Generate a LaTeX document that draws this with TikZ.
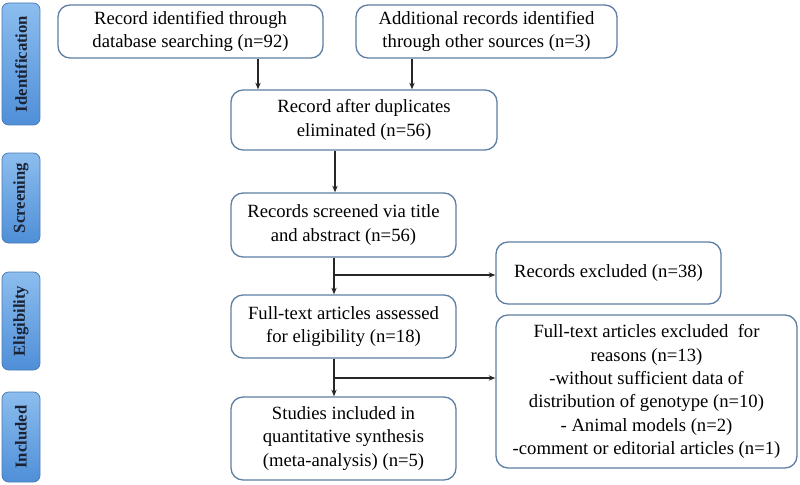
\documentclass[tikz,border=0pt]{standalone}
\usepackage{fontspec}
\setmainfont{Liberation Serif}
\usetikzlibrary{arrows.meta}
\definecolor{boxline}{HTML}{5E7FA3}
\definecolor{sideA}{HTML}{8CBDEE}
\definecolor{sideB}{HTML}{4F8FD8}
\definecolor{sideline}{HTML}{4A7BB5}
\definecolor{sidetext}{HTML}{1A2233}
\tikzset{
  box/.style={draw=boxline, line width=1pt, rounded corners=9pt, fill=white,
    align=center, inner sep=2pt, font=\fontsize{14}{17.5}\selectfont},
  side/.style={draw=sideline, line width=0.6pt, rounded corners=5pt,
    top color=sideA, bottom color=sideB, text=sidetext,
    font=\bfseries\fontsize{12.5}{14}\selectfont, inner sep=0pt,
    minimum width=38*0.75pt},
  conn/.style={line width=0.8pt, draw=black!85, -{Stealth[length=5pt,width=4pt]}}
}
\newcommand{\sidetxt}[1]{\rotatebox{90}{#1}}
\begin{document}
\begin{tikzpicture}[x=0.75pt,y=-0.75pt]
\useasboundingbox (0,0) rectangle (800,485);
% side labels
\node[side, minimum height=122*0.75pt] (sid) at (21,64) {\sidetxt{Identification}};
\node[side, minimum height=90*0.75pt] (ssc) at (21,198) {\sidetxt{Screening}};
\node[side, minimum height=98*0.75pt] (sel) at (21,321) {\sidetxt{Eligibility}};
\node[side, minimum height=90*0.75pt] (sin) at (21,437) {\sidetxt{Included}};
% boxes
\node[box, minimum width=265*0.75pt, minimum height=53*0.75pt] (b1) at (190.5,31.5) {Record identified through\\database searching (n=92)};
\node[box, minimum width=261*0.75pt, minimum height=53*0.75pt] (b2) at (486.5,31.5) {Additional records identified\\through other sources (n=3)};
\node[box, minimum width=266*0.75pt, minimum height=60*0.75pt] (b3) at (364,120) {Record after duplicates\\eliminated (n=56)};
\node[box, minimum width=225*0.75pt, minimum height=64*0.75pt] (b4) at (343.5,225) {Records screened via title\\and abstract (n=56)};
\node[box, minimum width=225*0.75pt, minimum height=62*0.75pt] (e1) at (608.5,273) {Records excluded (n=38)};
\node[box, minimum width=225*0.75pt, minimum height=63*0.75pt] (b5) at (343.5,326.5) {Full-text articles assessed\\for eligibility (n=18)};
\node[box, minimum width=225*0.75pt, minimum height=83*0.75pt] (b6) at (343.5,438.5) {Studies included in\\quantitative synthesis\\(meta-analysis) (n=5)};
\node[box, minimum width=301*0.75pt, minimum height=153*0.75pt] (e2) at (646.5,391.5) {Full-text articles excluded\ \ for\\reasons (n=13)\\-without sufficient data of\\distribution of genotype (n=10)\\- Animal models (n=2)\\-comment or editorial articles (n=1)};
% connectors
\draw[conn] (b1.south -| 258,0) -- (b3.north -| 258,0);
\draw[conn] (b2.south -| 412,0) -- (b3.north -| 412,0);
\draw[conn] (b3.south -| 335,0) -- (b4.north -| 335,0);
\draw[conn] (b4.south -| 334,0) -- (b5.north -| 334,0);
\coordinate (j1) at (334,275);
\draw[conn] (j1) -- (e1.west |- j1);
\draw[conn] (b5.south -| 334,0) -- (b6.north -| 334,0);
\coordinate (j2) at (334,378);
\draw[conn] (j2) -- (e2.west |- j2);
\end{tikzpicture}
\end{document}
